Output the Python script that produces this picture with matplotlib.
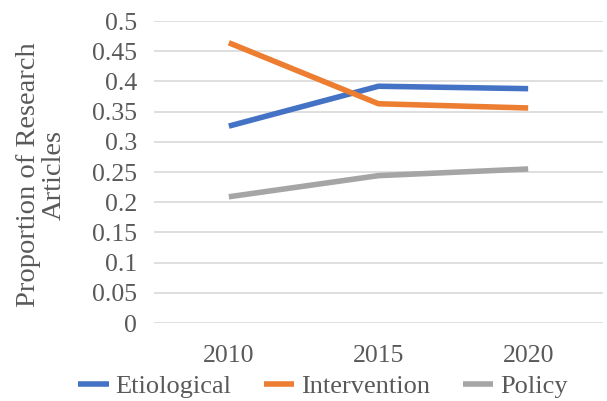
import numpy as np
import matplotlib
matplotlib.use('Agg')
import matplotlib.pyplot as plt

# data
years = ['2010', '2015', '2020']
etiological = [0.326, 0.392, 0.388]
intervention = [0.464, 0.363, 0.356]
policy = [0.209, 0.244, 0.255]
y_ticks = [0, 0.05, 0.1, 0.15, 0.2, 0.25, 0.3, 0.35, 0.4, 0.45, 0.5]

plt.rcParams['font.family'] = ['Liberation Serif', 'DejaVu Serif']
text_color = '#595959'

fig = plt.figure(figsize=(6.07, 4.01), dpi=100)
ax = fig.add_axes([0.2537, 0.1945, 0.7397, 0.7531])

x = np.arange(len(years))
ax.plot(x, etiological, color='#4472C4', linewidth=4, label='Etiological',
        solid_capstyle='butt')
ax.plot(x, intervention, color='#ED7D31', linewidth=4, label='Intervention',
        solid_capstyle='butt')
ax.plot(x, policy, color='#A5A5A5', linewidth=4, label='Policy',
        solid_capstyle='butt')

ax.set_xlim(-0.5, 2.5)
ax.set_ylim(0, 0.5)
ax.set_xticks(x)
ax.set_xticklabels(years)
ax.set_yticks(y_ticks)
ax.set_yticklabels(['0', '0.05', '0.1', '0.15', '0.2', '0.25', '0.3',
                    '0.35', '0.4', '0.45', '0.5'])
ax.tick_params(axis='both', length=0, labelsize=18.5, labelcolor=text_color)
ax.tick_params(axis='y', pad=12)
ax.tick_params(axis='x', pad=16)
ax.grid(axis='y', color='#D9D9D9', linewidth=1.2)
ax.set_axisbelow(True)
for s in ax.spines.values():
    s.set_visible(False)

ax.set_ylabel('Proportion of Research\nArticles', fontsize=20.5,
              color=text_color, linespacing=1.05)
ax.yaxis.set_label_coords(-0.194, 0.49)

fig.legend(loc='center', bbox_to_anchor=(0.532, 0.036), ncol=3,
           frameon=False, fontsize=19, labelcolor=text_color,
           handlelength=1.15, handletextpad=0.25, columnspacing=1.25,
           borderaxespad=0, borderpad=0)

fig.savefig('out.png', dpi=100)
